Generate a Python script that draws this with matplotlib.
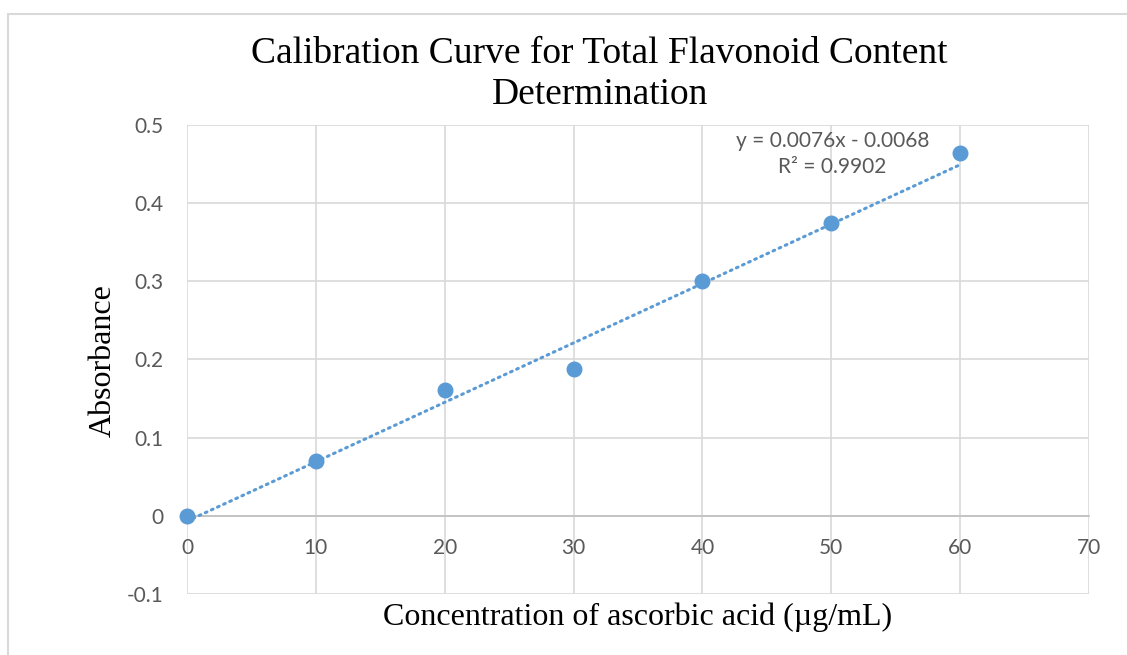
import numpy as np
import matplotlib
matplotlib.use('Agg')
import matplotlib.pyplot as plt
from matplotlib.patches import Rectangle

# Datos de calibración
concentracion = [0, 10, 20, 30, 40, 50, 60]
absorbancia = [0.000, 0.070, 0.161, 0.188, 0.300, 0.374, 0.464]
pendiente = 0.0076
intercepto = -0.0068
r2 = 0.9902

x_ticks = [0, 10, 20, 30, 40, 50, 60, 70]
y_ticks = [-0.1, 0, 0.1, 0.2, 0.3, 0.4, 0.5]
y_labels = ['-0.1', '0', '0.1', '0.2', '0.3', '0.4', '0.5']

azul = '#5B9BD5'
gris = '#d9d9d9'
texto_ticks = '#595959'

fig = plt.figure(figsize=(11.27, 6.55), dpi=100)
ax = fig.add_axes([0.1659, 0.0931, 0.8004, 0.7161])

# Borde del gráfico (estilo Excel)
fig.patches.append(Rectangle((0.0071, -0.2), 2, 0.9786 + 0.2, transform=fig.transFigure,
                             fill=False, edgecolor=gris, linewidth=1.5))

# Línea de tendencia
xt = np.array([concentracion[0], concentracion[-1]])
ax.plot(xt, pendiente * xt + intercepto, linestyle=(0, (0.6, 1.6)), color=azul,
        linewidth=2.2, dash_capstyle='round', zorder=3)

ax.scatter(concentracion, absorbancia, s=110, color=azul, zorder=4, clip_on=False)

ax.set_xlim(0, 70)
ax.set_ylim(-0.1, 0.5)
ax.set_xticks(x_ticks)
ax.set_yticks(y_ticks)
ax.set_yticklabels(y_labels)
ax.grid(True, color=gris, linewidth=1.2)
ax.set_axisbelow(True)

for s in ['top', 'right', 'left']:
    ax.spines[s].set_visible(False)
ax.spines['bottom'].set_position(('data', 0))
ax.spines['bottom'].set_color('#bfbfbf')
ax.spines['bottom'].set_linewidth(1.2)

ax.tick_params(axis='both', length=0, labelsize=15, labelcolor=texto_ticks)
ax.tick_params(axis='x', pad=16)
ax.tick_params(axis='y', pad=17)
for lbl in ax.get_xticklabels() + ax.get_yticklabels():
    lbl.set_fontfamily('Lato')

# Ecuación
ax.text(50.1, 0.463, f'y = {pendiente}x - {abs(intercepto)}\nR² = {r2}', ha='center', va='center',
        fontsize=15, color=texto_ticks, family='Lato', linespacing=1.35)

# Etiquetas
fig.text(0.532, 0.886, 'Calibration Curve for Total Flavonoid Content\nDetermination', ha='center',
         va='center', fontsize=27, family='Liberation Serif', linespacing=1.25)
fig.text(0.5657, 0.058, 'Concentration of ascorbic acid (µg/mL)', ha='center', va='center',
         fontsize=23, family='Liberation Serif')
fig.text(0.0914, 0.45, 'Absorbance', ha='center', va='center', rotation=90,
         fontsize=23, family='Liberation Serif')

plt.savefig('out.png', dpi=100)
